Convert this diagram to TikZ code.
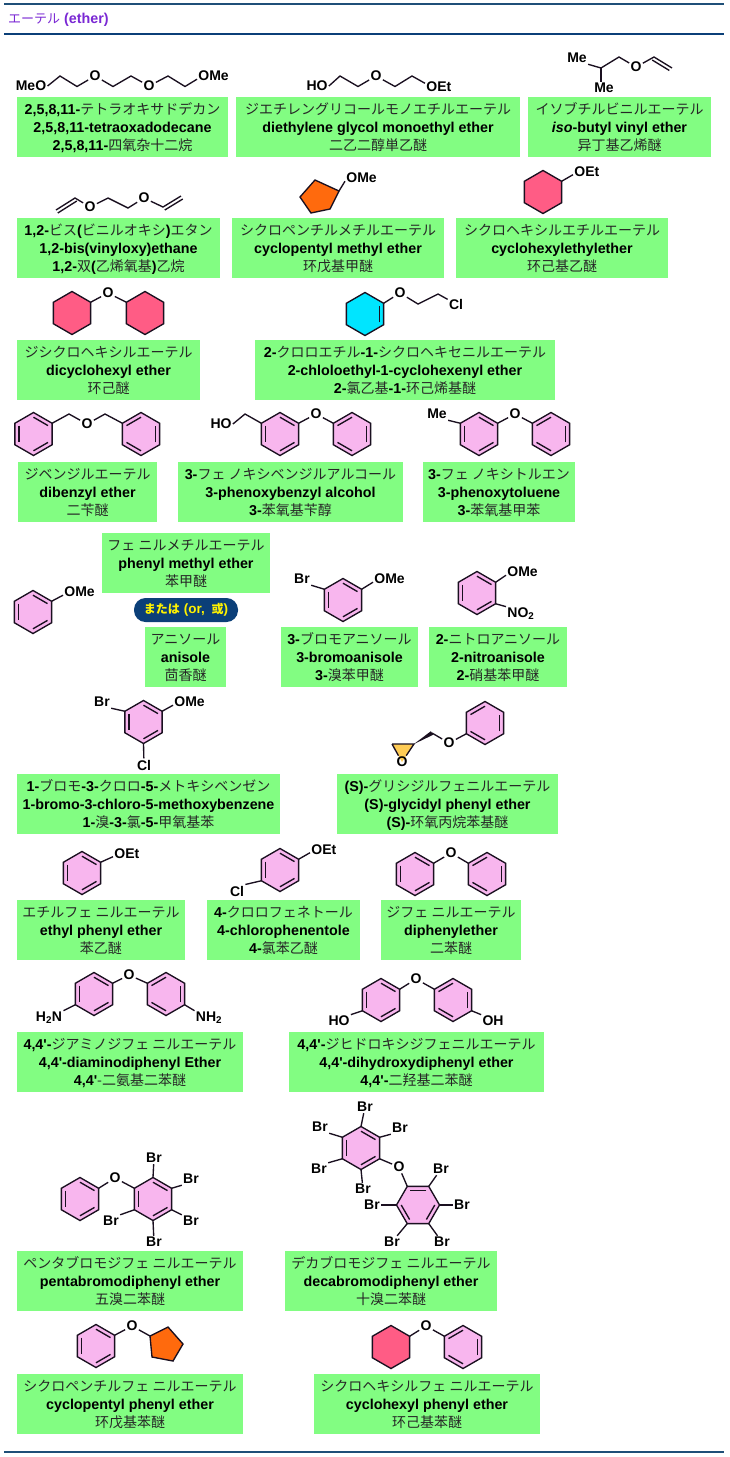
\documentclass[tikz,border=0pt]{standalone}
\usepackage{fontspec}
\usetikzlibrary{calc}
\setmainfont{Liberation Sans}[Ligatures=TeXOff]
\newfontfamily\jpf{Noto Sans CJK JP}
\newfontfamily\cnf{Noto Sans CJK SC}
\newcommand{\jpt}[1]{{\jpf\mdseries\fontsize{14}{18}\selectfont\color{cjkc}#1}}
\newcommand{\cnt}[1]{{\cnf\mdseries\fontsize{14}{18}\selectfont\color{cjkc}#1}}
\definecolor{cjkc}{HTML}{262626}
\definecolor{bondc}{HTML}{1A1020}
\definecolor{boxg}{HTML}{82FD82}
\definecolor{benzc}{HTML}{F8B6EE}
\definecolor{hexc}{HTML}{FF5C85}
\definecolor{pentc}{HTML}{FF6A0D}
\definecolor{cyanc}{HTML}{00E5FF}
\definecolor{epoxc}{HTML}{FFCC55}
\definecolor{navyc}{HTML}{0B3F78}
\definecolor{linec}{HTML}{1F4F78}
\definecolor{titlec}{HTML}{7A28D4}
\tikzset{
  bond/.style={draw=bondc,line width=1.35pt},
  atom/.style={inner sep=1.2pt,text=black,font=\fontsize{14}{16}\selectfont\bfseries},
  lblbox/.style={fill=boxg,inner sep=0pt,minimum height=60pt,align=center,text=black,
    font=\fontsize{14.3}{18}\selectfont\bfseries},
}
\newcommand{\lbox}[7]{\node[lblbox,minimum width={(#3-#2)*1pt}] (#1) at ({(#2+#3)/2},{#4+30})
  {\rule{0pt}{10pt}\smash{#5}\\\smash{#6}\\\smash{#7}};}
\newcommand{\atm}[5][]{\node[atom,#1] (#2) at (#3,#4) {#5};}
% ring: name x y fill rot
\newcommand{\hexring}[5]{%
  \coordinate (#1) at (#2,#3);
  \foreach \k in {1,...,6}{\coordinate (#1-\k) at ($(#1)+({#5-30-60*(\k-1)}:21.5)$);}
  \draw[bond,fill=#4,line join=miter] (#1-1)--(#1-2)--(#1-3)--(#1-4)--(#1-5)--(#1-6)--cycle;}
\newcommand{\dbl}[3]{\draw[bond] ($(#1)!0.78!(#1-#2)$) -- ($(#1)!0.78!(#1-#3)$);}
\newcommand{\benzA}[4][0]{\hexring{#2}{#3}{#4}{benzc}{#1}\dbl{#2}{3}{4}\dbl{#2}{1}{2}\dbl{#2}{5}{6}}
\newcommand{\benzB}[4][0]{\hexring{#2}{#3}{#4}{benzc}{#1}\dbl{#2}{6}{1}\dbl{#2}{2}{3}\dbl{#2}{4}{5}}
\begin{document}
\begin{tikzpicture}[x=1pt,y=-1pt]
\useasboundingbox (0,0) rectangle (729,1457);
\fill[white] (0,0) rectangle (729,1457);
% rules
\coordinate (r1a) at (4,4); \coordinate (r1b) at (724,4);
\coordinate (r2a) at (4,34); \coordinate (r2b) at (724,34);
\coordinate (r3a) at (4,1452); \coordinate (r3b) at (724,1452);
\draw[linec,line width=1.4pt] (r1a)--(r1b);
\draw[navyc,line width=2.8pt] (r2a)--(r2b);
\draw[linec,line width=1.4pt] (r3a)--(r3b);
\node[anchor=west,inner sep=0pt,text=titlec,font=\fontsize{14.3}{16}\selectfont\bfseries] (title) at (8,20)
  {{\jpf\mdseries\fontsize{13}{14}\selectfont エーテル} (ether)};

% labels
\lbox{b1}{17}{228}{97}{2,5,8,11-\jpt{テトラオキサドデカン}}{2,5,8,11-tetraoxadodecane}{2,5,8,11-\cnt{四氧杂十二烷}}
\lbox{b2}{236}{520}{97}{\jpt{ジエチレングリコールモノエチルエーテル}}{diethylene glycol monoethyl ether}{\cnt{二乙二醇単乙醚}}
\lbox{b3}{528}{711}{97}{\jpt{イソブチルビニルエーテル}}{\textit{iso}-butyl vinyl ether}{\cnt{异丁基乙烯醚}}
\lbox{b4}{17}{220}{218}{1,2-\jpt{ビス}(\jpt{ビニルオキシ})\jpt{エタン}}{1,2-bis(vinyloxy)ethane}{1,2-\cnt{双}(\cnt{乙烯氧基})\cnt{乙烷}}
\lbox{b5}{232}{444}{218}{\jpt{シクロペンチルメチルエーテル}}{cyclopentyl methyl ether}{\cnt{环戊基甲醚}}
\lbox{b6}{456}{668}{218}{\jpt{シクロヘキシルエチルエーテル}}{cyclohexylethylether}{\cnt{环己基乙醚}}
\lbox{b7}{17}{200}{340}{\jpt{ジシクロヘキシルエーテル}}{dicyclohexyl ether}{\cnt{环己醚}}
\lbox{b8}{255}{555}{340}{2-\jpt{クロロエチル}-1-\jpt{シクロヘキセニルエーテル}}{2-chloloethyl-1-cyclohexenyl ether}{2-\cnt{氯乙基}-1-\cnt{环己烯基醚}}
\lbox{b9}{18}{157}{462}{\jpt{ジベンジルエーテル}}{dibenzyl ether}{\cnt{二苄醚}}
\lbox{b10}{178}{403}{462}{3-\jpt{フェ ノキシベンジルアルコール}}{3-phenoxybenzyl alcohol}{3-\cnt{苯氧基苄醇}}
\lbox{b11}{423}{575}{462}{3-\jpt{フェ ノキシトルエン}}{3-phenoxytoluene}{3-\cnt{苯氧基甲苯}}
\lbox{b12}{102}{270}{533}{\jpt{フェ ニルメチルエーテル}}{phenyl methyl ether}{\cnt{苯甲醚}}
\lbox{b13}{145}{226}{627}{\jpt{アニソール}}{anisole}{\cnt{茴香醚}}
\lbox{b14}{281}{418}{627}{3-\jpt{ブロモアニソール}}{3-bromoanisole}{3-\cnt{溴苯甲醚}}
\lbox{b15}{429}{567}{627}{2-\jpt{ニトロアニソール}}{2-nitroanisole}{2-\cnt{硝基苯甲醚}}
\lbox{b16}{17}{280}{774}{1-\jpt{ブロモ}-3-\jpt{クロロ}-5-\jpt{メトキシベンゼン}}{1-bromo-3-chloro-5-methoxybenzene}{1-\cnt{溴}-3-\cnt{氯}-5-\cnt{甲氧基苯}}
\lbox{b17}{337}{558}{774}{(S)-\jpt{グリシジルフェニルエーテル}}{(S)-glycidyl phenyl ether}{(S)-\cnt{环氧丙烷苯基醚}}
\lbox{b18}{17}{185}{900}{\jpt{エチルフェ ニルエーテル}}{ethyl phenyl ether}{\cnt{苯乙醚}}
\lbox{b19}{207}{360}{900}{4-\jpt{クロロフェネトール}}{4-chlorophenentole}{4-\cnt{氯苯乙醚}}
\lbox{b20}{381}{521}{900}{\jpt{ジフェ ニルエーテル}}{diphenylether}{\cnt{二苯醚}}
\lbox{b21}{17}{243}{1032}{4,4'-\jpt{ジアミノジフェ ニルエーテル}}{4,4'-diaminodiphenyl Ether}{4,4'\cnt{-二氨基二苯醚}}
\lbox{b22}{289}{544}{1032}{4,4'-\jpt{ジヒドロキシジフェニルエーテル}}{4,4'-dihydroxydiphenyl ether}{4,4'-\cnt{二羟基二苯醚}}
\lbox{b23}{17}{243}{1251}{\jpt{ペンタブロモジフェ ニルエーテル}}{pentabromodiphenyl ether}{\cnt{五溴二苯醚}}
\lbox{b24}{285}{497}{1251}{\jpt{デカブロモジフェ ニルエーテル}}{decabromodiphenyl ether}{\cnt{十溴二苯醚}}
\lbox{b25}{17}{243}{1374}{\jpt{シクロペンチルフェ ニルエーテル}}{cyclopentyl phenyl ether}{\cnt{环戊基苯醚}}
\lbox{b26}{314}{540}{1374}{\jpt{シクロヘキシルフェ ニルエーテル}}{cyclohexyl phenyl ether}{\cnt{环己基苯醚}}

% pill
\node[fill=navyc,rounded corners=11.5pt,minimum width=104pt,minimum height=24pt,inner sep=0pt,text=yellow,
  font=\fontsize{13.5}{14}\selectfont\bfseries] (orpill) at (186,610)
  {{\jpf\fontsize{12}{14}\selectfont または}\hspace{4pt}(or, \hspace{3pt}{\jpf\fontsize{12}{14}\selectfont 或})};

% M1 tetraoxadodecane
\atm{a1}{31}{86}{MeO}
\coordinate (a2) at (60,76); \coordinate (a3) at (77,86.5);
\atm{a4}{95}{76}{O}
\coordinate (a5) at (113,86.5); \coordinate (a6) at (131,76);
\atm{a7}{149}{86}{O}
\coordinate (a8) at (168,76); \coordinate (a9) at (185,86.5);
\atm[anchor=west]{a10}{197}{76}{OMe}
\draw[bond] (a1.east)--(a2)--(a3)--(a4);
\draw[bond] (a4)--(a5)--(a6)--(a7);
\draw[bond] (a7)--(a8)--(a9)--(a10.191);

% M2
\atm{c1}{317}{86}{HO}
\coordinate (c2) at (340,76); \coordinate (c3) at (358,86.5);
\atm{c4}{376}{76}{O}
\coordinate (c5) at (395,86.5); \coordinate (c6) at (412,76);
\atm[anchor=west]{c7}{425}{87}{OEt}
\draw[bond] (c1.east)--(c2)--(c3)--(c4);
\draw[bond] (c4)--(c5)--(c6)--(c7.165);

% M3
\atm{d1}{577}{58}{Me}
\coordinate (d2) at (601,68);
\atm{d3}{604}{88}{Me}
\coordinate (d4) at (619,57);
\atm{d5}{636}{67}{O}
\coordinate (d6) at (654,57); \coordinate (d7) at (672,68);
\draw[bond] (d1.south east)--(d2)--(d4)--(d5)--(d6)--(d7);
\draw[bond] (d2)--($(d3.north)+(-3,0)$);
\draw[bond,shorten >=1pt] ($(d6)+(-1.8,3)$)--($(d7)+(-1.8,3)$);

% M4 divinyl
\coordinate (e1) at (56,210); \coordinate (e2) at (75,198);
\atm{e3}{90}{207}{O}
\coordinate (e4) at (108,198); \coordinate (e5) at (128,208);
\atm{e6}{144}{198}{O}
\coordinate (e7) at (163,207); \coordinate (e8) at (181,196);
\draw[bond] (e1)--(e2)--(e3)--(e4)--(e5)--(e6)--(e7)--(e8);
\draw[bond] ($(e1)+(1.8,3)$)--($(e2)+(1.8,3)$);
\draw[bond] ($(e7)+(1.8,3)$)--($(e8)+(1.8,3)$);

% M5 cyclopentyl methyl
\coordinate (f1) at (315,180); \coordinate (f2) at (339,191); \coordinate (f3) at (330,209);
\coordinate (f4) at (311,213); \coordinate (f5) at (300,197);
\draw[bond,fill=pentc,line join=miter] (f1)--(f2)--(f3)--(f4)--(f5)--cycle;
\atm[anchor=west]{f6}{345}{178}{OMe}
\draw[bond] (f2)--(f6.191);

% M6 cyclohexyl ethyl
\hexring{g}{543}{192}{hexc}{0}
\atm[anchor=west]{g7}{573}{172}{OEt}
\draw[bond] (g-1)--(g7.191);

% M7 dicyclohexyl
\hexring{h}{72}{313}{hexc}{0}
\hexring{i}{145}{313}{hexc}{0}
\atm{h7}{108}{293}{O}
\draw[bond] (h-1)--(h7)--(i-3);

% M8 cyclohexene
\hexring{j}{365}{314}{cyanc}{0}
\dbl{j}{6}{1}
\atm{j7}{400}{293}{O}
\coordinate (j8) at (418,304); \coordinate (j9) at (438,294);
\atm{j10}{456}{304}{Cl}
\draw[bond] (j-1)--(j7)--(j8)--(j9)--(j10);

% M9 dibenzyl
\benzA{k}{33.5}{434}
\benzB{l}{141}{434}
\coordinate (k7) at (69,414);
\atm{k8}{87}{424}{O}
\coordinate (k9) at (105,414);
\draw[bond] (k-1)--(k7)--(k8)--(k9)--(l-3);

% M10
\atm{m1}{221}{424}{HO}
\coordinate (m2) at (245,414);
\benzA{m}{280}{434}
\atm{m3}{316}{414}{O}
\benzB{n}{352}{434}
\draw[bond] (m1.east)--(m2)--(m-3);
\draw[bond] (m-1)--(m3)--(n-3);

% M11
\atm{o1}{437}{414}{Me}
\benzA{o}{479}{434}
\atm{o3}{515}{414}{O}
\benzB{p}{551}{434}
\draw[bond] (o1.south east)--(o-3);
\draw[bond] (o-1)--(o3)--(p-3);

% M12 anisole
\benzA{q}{33}{612}
\atm[anchor=west]{q7}{63}{592}{OMe}
\draw[bond] (q-1)--(q7.191);

% M13 bromoanisole
\benzA{r}{343}{600}
\atm{r7}{302}{579}{Br}
\atm[anchor=west]{r8}{373}{579}{OMe}
\draw[bond] (r7.south east)--(r-3);
\draw[bond] (r-1)--(r8.191);

% M14 nitroanisole
\benzA{s}{477}{593}
\atm[anchor=west]{s7}{506}{572}{OMe}
\atm[anchor=west]{s8}{506}{614}{NO\textsubscript{2}}
\draw[bond] (s-1)--(s7.191);
\draw[bond] (s-6)--(s8.north west);

% M15
\benzA{t}{143.5}{722}
\atm{t7}{102}{702}{Br}
\atm[anchor=west]{t8}{173}{702}{OMe}
\atm{t9}{144}{765}{Cl}
\draw[bond] (t7.south east)--(t-3);
\draw[bond] (t-1)--(t8.191);
\draw[bond] (t-5)--(t9);

% M16 glycidyl
\benzB{u}{485}{723}
\atm{u7}{449}{743}{O}
\coordinate (u8) at (432,733);
\coordinate (u9) at (414,744); \coordinate (u10) at (392,744);
\coordinate (u11) at (402,762);
\fill[epoxc] (u9)--(u10)--(u11)--cycle;
\atm{u12}{402}{762}{O}
\draw[bond] (u10)--(u9)--(u12)--(u10);
\fill[bondc] (u9)--($(u8)+(1.1,1.8)$)--($(u8)+(-1.1,-1.8)$)--cycle;
\draw[bond] (u8)--(u7)--(u-4);

% M17
\benzA{v}{82}{873}
\atm[anchor=west]{v7}{113}{854}{OEt}
\draw[bond] (v-1)--(v7.191);

% M18
\benzA{w}{280}{870}
\atm[anchor=west]{w7}{310}{850}{OEt}
\atm{w8}{237}{891}{Cl}
\draw[bond] (w-1)--(w7.191);
\draw[bond] (w-4)--(w8.north east);

% M19
\benzA{x}{415}{874}
\atm{x7}{451}{853}{O}
\benzB{y}{487}{874}
\draw[bond] (x-1)--(x7)--(y-3);

% M20
\benzA{z}{94}{994}
\atm{z7}{129}{975}{O}
\benzB{aa}{166}{994}
\atm{z8}{49}{1018}{H\textsubscript{2}N}
\atm{z9}{209}{1018}{NH\textsubscript{2}}
\draw[bond] (z-1)--(z7)--(aa-3);
\draw[bond] (z-4)--(z8.north east);
\draw[bond] (aa-6)--(z9.north west);

% M21
\benzA{ab}{381}{1000}
\atm{ab7}{416}{979}{O}
\benzB{ac}{453}{1000}
\atm{ab8}{339}{1021}{HO}
\atm{ab9}{493}{1021}{OH}
\draw[bond] (ab-1)--(ab7)--(ac-3);
\draw[bond] (ab-4)--(ab8.north east);
\draw[bond] (ac-6)--(ab9.north west);

% M22 penta
\benzA{ad}{80}{1199}
\atm{ad7}{115}{1178}{O}
\benzA{ae}{153}{1199}
\atm{ae1}{154}{1158}{Br}
\atm{ae2}{191}{1179}{Br}
\atm{ae3}{191}{1221}{Br}
\atm{ae4}{154}{1242}{Br}
\atm{ae5}{111}{1221}{Br}
\draw[bond] (ad-1)--(ad7)--(ae-3);
\draw[bond] (ae-2)--(ae1);
\draw[bond] (ae-1)--(ae2.south west);
\draw[bond] (ae-6)--(ae3.north west);
\draw[bond] (ae-5)--(ae4);
\draw[bond] (ae-4)--(ae5.north east);

% M23 deca
\benzA{af}{361}{1148}
\atm{af1}{365}{1107}{Br}
\atm{af2}{320}{1127}{Br}
\atm{af3}{400}{1128}{Br}
\atm{af4}{319}{1169}{Br}
\atm{af5}{363}{1189}{Br}
\atm{af7}{399}{1167}{O}
\draw[bond] (af-2)--(af1);
\draw[bond] (af-3)--(af2.south east);
\draw[bond] (af-1)--(af3.south west);
\draw[bond] (af-4)--(af4.north east);
\draw[bond] (af-5)--(af5);
\benzB[30]{ag}{418}{1205}
\atm{ag1}{441}{1169}{Br}
\atm{ag2}{372}{1205}{Br}
\atm{ag3}{462}{1205}{Br}
\atm{ag4}{392}{1242}{Br}
\atm{ag5}{442}{1242}{Br}
\draw[bond] (af-6)--(af7)--(ag-3);
\draw[bond] (ag-2)--(ag1);
\draw[bond] (ag-4)--(ag2);
\draw[bond] (ag-1)--(ag3);
\draw[bond] (ag-5)--(ag4);
\draw[bond] (ag-6)--(ag5);

% M24
\benzA{ah}{96}{1346}
\atm{ah7}{132}{1326}{O}
\coordinate (ai1) at (150,1336); \coordinate (ai2) at (168,1327); \coordinate (ai3) at (183,1344);
\coordinate (ai4) at (173,1361); \coordinate (ai5) at (152,1357);
\draw[bond,fill=pentc,line join=miter] (ai1)--(ai2)--(ai3)--(ai4)--(ai5)--cycle;
\draw[bond] (ah-1)--(ah7)--(ai1);

% M25
\hexring{aj}{391}{1347}{hexc}{0}
\atm{aj7}{426}{1326}{O}
\benzB{ak}{463}{1347}
\draw[bond] (aj-1)--(aj7)--(ak-3);
\end{tikzpicture}
\end{document}
